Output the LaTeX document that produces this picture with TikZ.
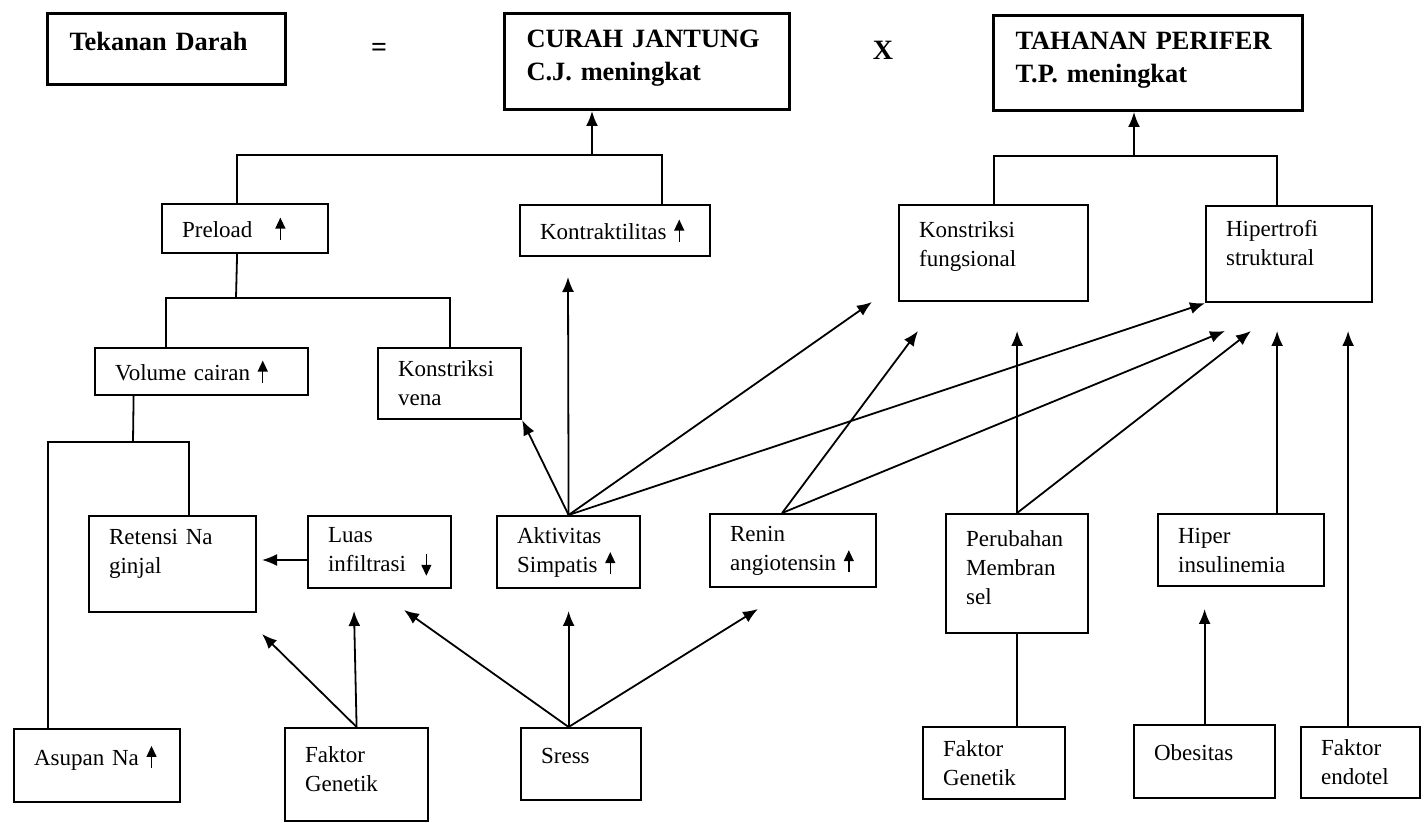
\documentclass[tikz,border=0pt]{standalone}
\usepackage{fontspec}
\setmainfont{Liberation Serif}
\usetikzlibrary{arrows.meta}

\newcommand{\naik}{\tikz[baseline=0pt]\draw[line width=0.7pt,-{Triangle[length=5.5pt,width=5pt]}] (0,-1pt) -- (0,10pt);}
\newcommand{\turun}{\tikz[baseline=0pt]\draw[line width=0.7pt,-{Triangle[length=5.5pt,width=5pt]}] (0,9pt) -- (0,-2pt);}

\begin{document}
\begin{tikzpicture}[x=0.5pt, y=-0.5pt, -{Latex[length=7.5pt,width=6pt]}, line width=0.9pt,
kotak/.style={draw, rectangle, anchor=north west, align=left, inner xsep=10pt, inner ysep=0pt,
  line width=1.1pt, font=\fontsize{11.5}{14.5}\selectfont},
judul/.style={kotak, line width=1.5pt, inner xsep=11pt, font=\fontsize{13.2}{16.5}\selectfont\bfseries},
ukuran/.style 2 args={text width=#1, minimum height=#2},
simbol/.style={font=\fontsize{14}{14}\selectfont\bfseries}]
\useasboundingbox (0,0) rectangle (1426,823);

% baris atas
\node[judul, ukuran={97pt}{35.5pt}, text depth=8pt] (darah) at (46,12) {Tekanan Darah};
\node[simbol] (sama) at (379,50) {=};
\node[judul, ukuran={120.5pt}{48pt}, text depth=23pt] (curah) at (503,12) {CURAH JANTUNG\\C.J. meningkat};
\node[simbol] (kali) at (883,50) {X};
\node[judul, ukuran={132.5pt}{47.5pt}, text depth=22pt] (tahanan) at (992,14) {TAHANAN PERIFER\\T.P. meningkat};

\node[kotak, ukuran={63pt}{24.5pt}] (preload) at (161,203) {Preload\quad\naik};
\node[kotak, ukuran={75pt}{25.5pt}] (kontrak) at (519,204) {Kontraktilitas~\naik};
\node[kotak, ukuran={74.5pt}{48pt}, text depth=24pt] (fungsi) at (898,204) {Konstriksi\\fungsional};
\node[kotak, ukuran={63pt}{48pt}, text depth=25.5pt] (hipertrofi) at (1205,205) {Hipertrofi\\struktural};

\node[kotak, ukuran={86.5pt}{23.5pt}] (volume) at (94,347) {Volume~cairan~\naik};
\node[kotak, ukuran={51.5pt}{35.5pt}] (vena) at (377,347) {Konstriksi\\vena};

\node[kotak, ukuran={63.5pt}{48pt}, text depth=27pt] (retensi) at (88,515) {Retensi~Na\\ginjal};
\node[kotak, ukuran={51.5pt}{36pt}] (luas) at (307,515) {Luas\\infiltrasi~~\turun};
\node[kotak, ukuran={51.5pt}{36pt}] (aktivitas) at (496,515) {Aktivitas\\Simpatis~\naik};
\node[kotak, ukuran={63pt}{36.5pt}] (renin) at (709,513) {Renin\\angiotensin~\naik};
\node[kotak, ukuran={51pt}{59.5pt}, text depth=35pt] (perubahan) at (945,513) {Perubahan\\Membran\\sel};
\node[kotak, ukuran={63pt}{36pt}] (hiper) at (1157,513) {Hiper\\insulinemia};

\node[kotak, ukuran={63pt}{36.5pt}, text depth=10pt] (asupan) at (13,728) {Asupan~Na~\naik};
\node[kotak, ukuran={51.5pt}{46.5pt}, text depth=20.5pt] (genetik) at (284,727) {Faktor\\Genetik};
\node[kotak, ukuran={40pt}{36pt}, text depth=8pt] (sress) at (520,727) {Sress};
\node[kotak, ukuran={51pt}{36pt}] (genetik2) at (922,726) {Faktor\\Genetik};
\node[kotak, ukuran={50.5pt}{36.5pt}, text depth=9pt] (obesitas) at (1133,724) {Obesitas};
\node[kotak, ukuran={39.5pt}{35.5pt}] (endotel) at (1300,726) {Faktor\\endotel};

% titik cabang dan ujung panah
\coordinate (cj) at (592,155);
\coordinate (tp) at (1134,156);
\coordinate (vc) at (236,298);
\coordinate (rn) at (133,442);
\coordinate (tRet) at (262,560);
\coordinate (tKon) at (568,277);
\coordinate (tFun) at (872,302);
\coordinate (tFun2) at (918,331);
\coordinate (tHip1) at (1225,331);
\coordinate (tHip2) at (1251,331);
\coordinate (tObe) at (1204,609);
\coordinate (tLuas1) at (354,611);
\coordinate (tLuas2) at (404,610);
\coordinate (tRet2) at (262,634);
\coordinate (tRen) at (758,609);

% ke curah jantung
\draw[-] ([xshift=-4pt]preload.north) |- ([xshift=23.5pt]kontrak.north |- cj) -- ([xshift=23.5pt]kontrak.north);
\draw (cj) -- (cj |- curah.south);
% ke tahanan perifer
\draw[-] (fungsi.north) |- ([xshift=-6pt]hipertrofi.north |- tp) -- ([xshift=-6pt]hipertrofi.north);
\draw (tp) -- (tp |- tahanan.south);
% preload
\draw[-] ([xshift=-4pt]preload.south) -- (vc);
\draw[-] ([xshift=-18pt]volume.north) |- (vena.north |- vc) -- (vena.north);
% volume cairan
\draw[-] ([xshift=-34pt]volume.south) -- (rn);
\draw[-] ([xshift=-24.5pt]asupan.north) |- ([xshift=8.25pt]retensi.north |- rn) -- ([xshift=8.25pt]retensi.north);
\draw (luas.west |- tRet) -- (tRet);

% aktivitas simpatis
\draw (aktivitas.north) -- (tKon);
\draw (aktivitas.north) -- (vena.south east);
\draw (aktivitas.north) -- (tFun);
\draw (aktivitas.north) -- (hipertrofi.south west);
% renin angiotensin
\draw ([xshift=-5.5pt]renin.north) -- (tFun2);
\draw ([xshift=-5.5pt]renin.north) -- (tHip1);
% perubahan membran sel
\draw (perubahan.north) -- (perubahan.north |- tFun2);
\draw (perubahan.north) -- (tHip2);
\draw[-] (genetik2.north -| perubahan.south) -- (perubahan.south);
% hiper insulinemia
\draw ([xshift=18pt]hiper.north) -- ([xshift=18pt]hiper.north |- tHip2);
\draw (obesitas.north) -- (obesitas.north |- tObe);
\draw ([xshift=-6.25pt]endotel.north) -- ([xshift=-6.25pt]endotel.north |- tHip2);

% faktor genetik dan stres
\draw (genetik.north) -- (tLuas1);
\draw (genetik.north) -- (tRet2);
\draw (sress.north -| aktivitas.north) -- (tLuas2);
\draw (sress.north -| aktivitas.north) -- (aktivitas.north |- tLuas1);
\draw (sress.north -| aktivitas.north) -- (tRen);
\end{tikzpicture}
\end{document}
